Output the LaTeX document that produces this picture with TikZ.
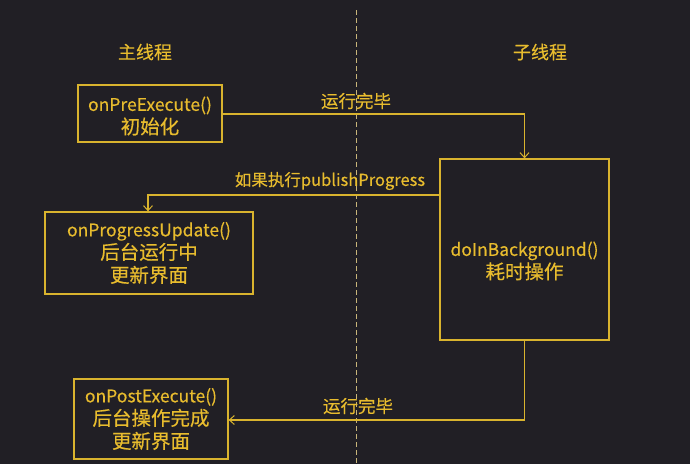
\documentclass[tikz,border=0pt]{standalone}
\usepackage{fontspec}
\setmainfont{Noto Sans CJK SC}
\newfontfamily\medf[FakeBold=0.4]{Noto Sans CJK SC}
\newcommand{\zhbig}[1]{{\fontsize{19.5}{23}\selectfont #1}}
\usetikzlibrary{arrows.meta}
\definecolor{bgc}{HTML}{211F25}
\definecolor{ylw}{HTML}{D9B32E}
\definecolor{txt}{HTML}{E8BC2E}
\definecolor{divc}{HTML}{C9B57A}
\tikzset{
  box/.style={draw=ylw, line width=1.3pt, inner sep=0pt, align=center, text=txt, font=\medf\fontsize{17.5}{23}\selectfont},
  conn/.style={draw=ylw, line width=1.2pt, -{Straight Barb[length=5pt,width=9pt,line width=1pt]}},
  lbl/.style={text=txt, font=\medf\fontsize{16.5}{19}\selectfont, inner sep=0pt},
  lblzh/.style={text=txt, font=\medf\fontsize{17.5}{19}\selectfont, inner sep=0pt},
  ttl/.style={text=txt, font=\medf\fontsize{18}{20}\selectfont, inner sep=0pt},
  btxt/.style={text=txt, align=center, inner sep=0pt, font=\medf\fontsize{17.5}{23}\selectfont},
  divline/.style={draw=divc, line width=1pt, dash pattern=on 5pt off 3pt}
}
\begin{document}
\begin{tikzpicture}[x=1pt,y=-1pt]
\fill[bgc] (0,0) rectangle (690,464);
\useasboundingbox (0,0) rectangle (690,464);
% divider
\coordinate (dtop) at (356,10);
\coordinate (dbot) at (356,464);
\draw[divline] (dtop) -- (dbot);
% titles
\node[ttl] (main) at (145,52) {主线程};
\node[ttl] (sub) at (540,52) {子线程};
% boxes
\node[box, minimum width=144pt, minimum height=57pt] (pre) at (150,113.5) {};
\node[btxt] (pret) at (150,116) {onPreExecute()\\\zhbig{初始化}};
\node[box, minimum width=169pt, minimum height=181pt] (bg) at (524.5,249.5) {};
\node[btxt] (bgt) at (524.5,261) {doInBackground()\\\zhbig{耗时操作}};
\node[box, minimum width=208pt, minimum height=82pt] (prog) at (149,253) {onProgressUpdate()\\\zhbig{后台运行中}\\\zhbig{更新界面}};
\node[box, minimum width=154pt, minimum height=80pt] (post) at (151,419) {onPostExecute()\\\zhbig{后台操作完成}\\\zhbig{更新界面}};
% connectors
\draw[conn] (pre.east |- 0,114) -| (bg.north);
\node[lblzh] (l1) at (356,101) {运行完毕};
\draw[conn] (bg.west |- 0,195) -| (prog.north -| 148,0);
\node[lbl] (l2) at (330,181) {如果执行publishProgress};
\draw[conn] (bg.south) |- (post.east |- 0,420);
\node[lblzh] (l3) at (358,406) {运行完毕};
\end{tikzpicture}
\end{document}
